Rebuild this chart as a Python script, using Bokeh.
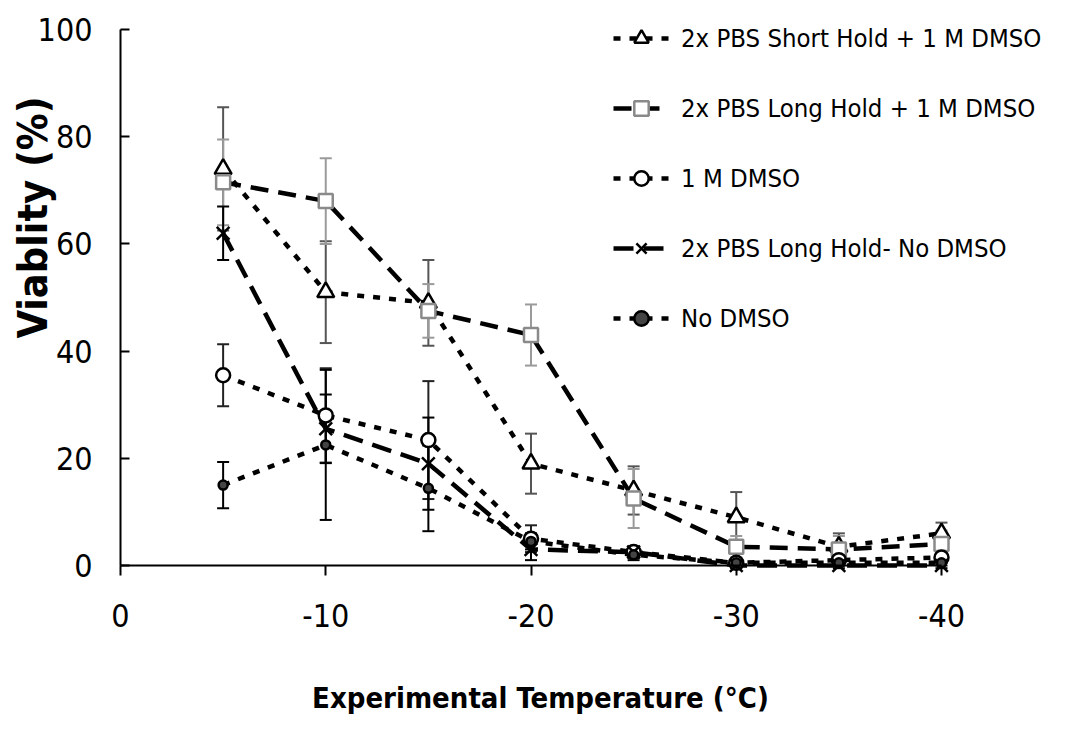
import math
from bokeh.plotting import figure
from bokeh.models import (ColumnDataSource, Whisker, Legend, LegendItem, Label,
                          FixedTicker, Range1d)
from bokeh.embed import file_html
from bokeh.resources import INLINE

# ---------------- data ----------------
temps = [-5, -10, -15, -20, -25, -30, -35, -40]

short_hold = [74, 51, 49, 19, 14, 9, 3.5, 6]
short_hold_err = [11.5, 9.5, 8, 5.6, 4.5, 4.7, 2.5, 2]

long_hold = [71.5, 68, 47.5, 43, 12.5, 3.5, 3, 4]
long_hold_err = [8, 8, 5, 5.7, 5.5, 2, 2.5, 2.5]

dmso = [35.5, 28, 23.4, 5, 2.5, 0.5, 1, 1.5]
dmso_err = [5.8, 8.8, 11, 2.5, 1, 0.5, 1, 1]

long_nodmso = [62, 25.5, 19, 3, 2.5, 0, 0, 0]
long_nodmso_err = [5, 6.4, 8.6, 2, 1, 0.5, 0.5, 0.5]

nodmso = [15, 22.5, 14.4, 4.5, 2, 0.5, 0.5, 0.5]
nodmso_err = [4.3, 14, 8, 1.5, 1, 0.5, 0.5, 0.5]

labels = ["2x PBS Short Hold + 1 M DMSO",
          "2x PBS Long Hold + 1 M DMSO",
          "1 M DMSO",
          "2x PBS Long Hold- No DMSO",
          "No DMSO"]

x_ticks = [0, -10, -20, -30, -40]
y_ticks = [0, 20, 40, 60, 80, 100]
x_title = "Experimental Temperature (°C)"
y_title = "Viablity (%)"

FONT = "DejaVu Sans Condensed, Liberation Sans, sans-serif"

# ---------------- layout (pixels) ----------------
W, H = 1067, 731
AX_LEFT, AX_RIGHT = 120, 941     # pixel of x = 0 and x = -40
AX_TOP, AX_BOTTOM = 29, 565      # pixel of y = 100 and y = 0
xs = (AX_RIGHT - AX_LEFT) / 40.0
ys = (AX_BOTTOM - AX_TOP) / 100.0
x_range = Range1d(AX_LEFT / xs, -(W - AX_LEFT) / xs)
y_range = Range1d(-(H - AX_BOTTOM) / ys, 100 + AX_TOP / ys)

p = figure(width=W, height=H, output_backend="svg", toolbar_location=None,
           x_range=x_range, y_range=y_range,
           min_border=0, min_border_left=0, min_border_right=0,
           min_border_top=0, min_border_bottom=0)
p.outline_line_color = None
p.grid.grid_line_color = None
p.background_fill_color = "white"
p.border_fill_color = "white"

for ax in (p.xaxis[0], p.yaxis[0]):
    ax.fixed_location = 0
    ax.axis_line_color = "black"
    ax.axis_line_width = 2
    ax.major_tick_line_color = "black"
    ax.major_tick_line_width = 2
    ax.minor_tick_line_color = None
    ax.major_label_text_font = FONT
    ax.major_label_text_font_size = "32px"
    ax.major_label_text_color = "black"

p.xaxis.bounds = (-40, 0)
p.xaxis.ticker = FixedTicker(ticks=x_ticks)
p.xaxis.major_label_overrides = {t: str(t) for t in x_ticks}
p.xaxis.major_tick_out = 10
p.xaxis.major_tick_in = 0
p.xaxis.major_label_standoff = 28

p.yaxis.bounds = (0, 100)
p.yaxis.ticker = FixedTicker(ticks=y_ticks)
p.yaxis.major_tick_out = 0
p.yaxis.major_tick_in = 9
p.yaxis.major_label_standoff = 28

series = [
    dict(y=short_hold, e=short_hold_err, marker="triangle", size=17, fill="white",
         mline="black", dash="7 9", ecolor="#555555"),
    dict(y=long_hold, e=long_hold_err, marker="square", size=14, fill="white",
         mline="#8a8a8a", dash="18 10", ecolor="#9a9a9a"),
    dict(y=dmso, e=dmso_err, marker="circle", size=14, fill="white",
         mline="black", dash="7 9", ecolor="#222222"),
    dict(y=long_nodmso, e=long_nodmso_err, marker="x", size=18, fill="black",
         mline="black", dash="20 10", ecolor="black"),
    dict(y=nodmso, e=nodmso_err, marker="circle", size=9, fill="#444444",
         mline="black", dash="7 9", ecolor="black"),
]

for s in series:
    src = ColumnDataSource(dict(
        x=temps, y=s["y"],
        lo=[v - e for v, e in zip(s["y"], s["e"])],
        hi=[v + e for v, e in zip(s["y"], s["e"])]))
    s["lr"] = p.line("x", "y", source=src, line_color="black", line_width=4.5,
                     line_dash=s["dash"])
    w = Whisker(source=src, base="x", lower="lo", upper="hi",
                line_color=s["ecolor"], line_width=2)
    for h in (w.upper_head, w.lower_head):
        h.size = 12
        h.line_color = s["ecolor"]
        h.line_width = 2
    p.add_layout(w)
    s["src"] = src

items = []
for s, lab in zip(series, labels):
    mr = p.scatter("x", "y", source=s["src"], marker=s["marker"], size=s["size"],
                   fill_color=s["fill"], line_color=s["mline"], line_width=2.5)
    items.append(LegendItem(label=lab, renderers=[s["lr"], mr]))

legend = Legend(items=items, location=(613, H - 336),
                label_text_font=FONT, label_text_font_size="25.5px",
                label_text_color="black",
                glyph_width=56, glyph_height=36, label_height=36,
                spacing=34, padding=0, margin=0, label_standoff=12,
                border_line_color=None, background_fill_alpha=0)
p.add_layout(legend, "center")

p.add_layout(Label(x=540, y=H - 697, x_units="screen", y_units="screen",
                   text=x_title, text_font=FONT, text_font_style="bold",
                   text_font_size="29px", text_align="center",
                   text_baseline="middle", text_color="black"))
p.add_layout(Label(x=32, y=H - 217, x_units="screen", y_units="screen",
                   text=y_title, angle=math.pi / 2, text_font=FONT,
                   text_font_style="bold", text_font_size="41px",
                   text_align="center", text_baseline="middle",
                   text_color="black"))

open("out.html", "w").write(file_html(p, INLINE))
